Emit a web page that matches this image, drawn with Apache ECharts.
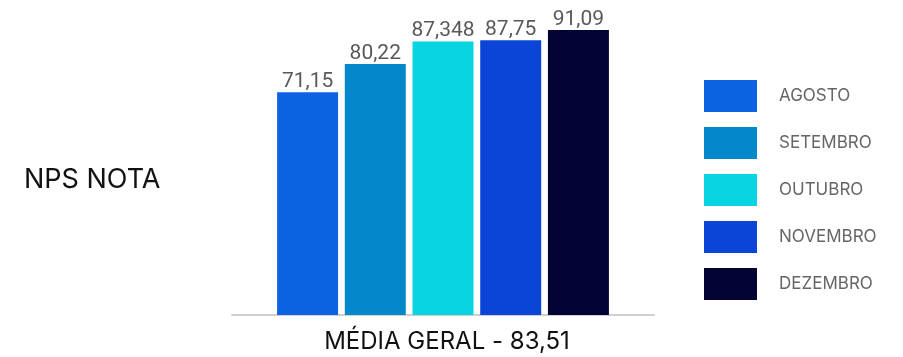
<!DOCTYPE html>
<html>
<head>
<meta charset="utf-8">
<script src="https://cdn.jsdelivr.net/npm/echarts@6/dist/echarts.min.js"></script>
<style>
  html, body { margin: 0; padding: 0; background: #ffffff; }
  #chart { width: 903px; height: 357px; }
</style>
</head>
<body>
<div id="chart"></div>
<script>
// NPS score per month, one bar group for the overall average
const categories = ['MÉDIA GERAL - 83,51'];
const months = ['AGOSTO', 'SETEMBRO', 'OUTUBRO', 'NOVEMBRO', 'DEZEMBRO'];
const npsValues = [71.15, 80.22, 87.348, 87.75, 91.09];
const monthColors = ['#0b62e3', '#0288cb', '#09d4e1', '#0b45d8', '#030336'];

const TEXT_FONT = 'Inter, "DejaVu Sans", sans-serif';
const NUM_FONT = 'Roboto, "Liberation Sans", sans-serif';

const series = months.map((m, i) => ({
  name: m,
  type: 'bar',
  data: [npsValues[i]],
  barWidth: 61,
  barGap: '11%',
  itemStyle: { color: monthColors[i] },
  label: {
    show: true,
    position: 'top',
    distance: 0,
    color: '#595959',
    fontFamily: NUM_FONT,
    fontSize: 21,
    formatter: p => String(p.value).replace('.', ',')
  }
}));

const chart = echarts.init(document.getElementById('chart'), null, { renderer: 'canvas' });
chart.setOption({
  animation: false,
  backgroundColor: '#ffffff',
  grid: { left: 232, right: 249, top: 2, bottom: 42 },
  xAxis: {
    type: 'category',
    data: categories,
    axisLine: { lineStyle: { color: '#d0d0d0', width: 2 } },
    axisTick: { show: false },
    axisLabel: {
      color: '#111111',
      fontFamily: TEXT_FONT,
      fontSize: 24,
      margin: 15,
      padding: [0, 0, 0, 8]
    }
  },
  yAxis: {
    type: 'value',
    min: 0,
    max: 100,
    show: false
  },
  legend: {
    orient: 'vertical',
    left: 704,
    top: 80,
    padding: 0,
    itemWidth: 53,
    itemHeight: 32,
    itemGap: 15,
    icon: 'rect',
    data: months,
    textStyle: {
      color: '#666666',
      fontFamily: TEXT_FONT,
      fontSize: 17,
      padding: [0, 0, 0, 17]
    }
  },
  graphic: [{
    type: 'text',
    left: 24,
    top: 166,
    style: {
      text: 'NPS NOTA',
      fill: '#111111',
      font: '27px ' + TEXT_FONT
    }
  }],
  series: series
});
</script>
</body>
</html>
